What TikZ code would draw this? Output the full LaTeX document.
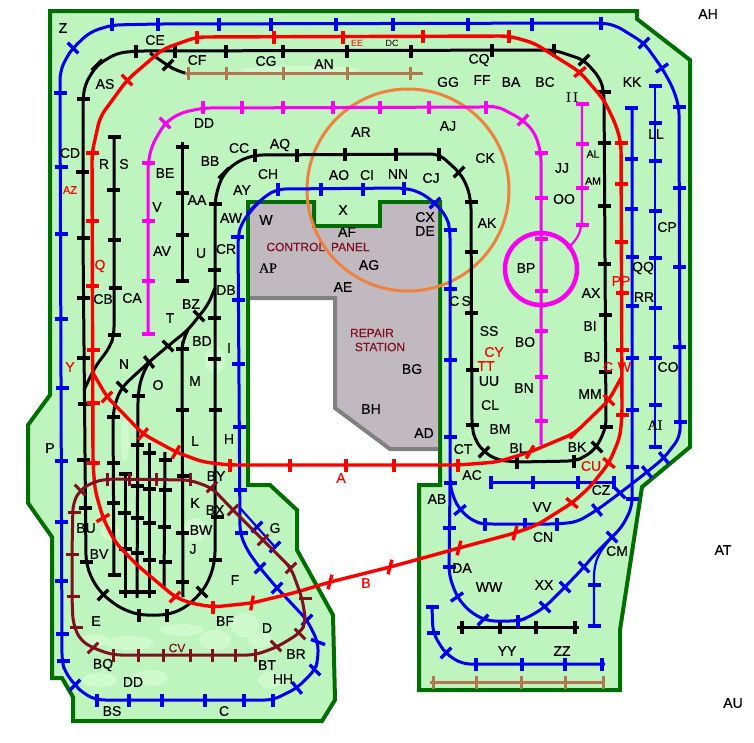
\documentclass[tikz,border=0pt]{standalone}
\usepackage{xcolor}
\usepackage{fontspec}
\setmainfont{Liberation Sans}
\newfontfamily\labelpart{Liberation Sans}[FakeBold=0.35]
\newfontfamily\serifpart{Liberation Serif}[FakeBold=0.35]
\definecolor{boardgreen}{RGB}{190,244,190}
\definecolor{paleblotch}{RGB}{206,250,206}
\definecolor{edgegreen}{RGB}{0,110,0}
\definecolor{panelgrey}{RGB}{192,186,192}
\definecolor{railblue}{RGB}{0,0,240}
\definecolor{railred}{RGB}{250,0,0}
\definecolor{railpink}{RGB}{250,0,240}
\definecolor{railmaroon}{RGB}{128,16,32}
\definecolor{railbrown}{RGB}{176,120,80}
\definecolor{railorange}{RGB}{240,128,64}
\tikzset{
  bluerail/.style={draw=railblue,line width=3pt,rounded corners=8pt},
  thinblue/.style={draw=railblue,line width=2.2pt,rounded corners=8pt},
  blacktrack/.style={draw=black,line width=3pt,rounded corners=8pt},
  redrail/.style={draw=railred,line width=3.4pt,rounded corners=8pt},
  pinkrail/.style={draw=railpink,line width=3pt,rounded corners=8pt},
  maroonrail/.style={draw=railmaroon,line width=3pt,rounded corners=8pt},
  brownrail/.style={draw=railbrown,line width=3pt},
  lab/.style={inner sep=0pt,font=\fontsize{14}{14}\selectfont\labelpart},
  labred/.style={lab,text=railred},
  labmaroon/.style={lab,text=railmaroon,font=\fontsize{12}{12}\selectfont\labelpart},
  labserif/.style={lab,font=\fontsize{14}{14}\selectfont\serifpart},
  labsmall/.style={lab,font=\fontsize{10.5}{10.5}\selectfont\labelpart},
}
\newcommand{\tickh}[2]{\foreach \x/\y in {#2} {\draw[#1] (\x-6.5,\y) -- (\x+6.5,\y);}}
\newcommand{\tickv}[2]{\foreach \x/\y in {#2} {\draw[#1] (\x,\y-6.5) -- (\x,\y+6.5);}}
\newcommand{\tickr}[2]{\foreach \x/\y/\a in {#2} {\draw[#1] ([shift={(\a:7.5)}]\x,\y) -- ([shift={(\a+180:7.5)}]\x,\y);}}
\begin{document}
\begin{tikzpicture}[x=1pt,y=-1pt]
\useasboundingbox (0,0) rectangle (754,742);
\fill[white] (0,0) rectangle (754,742);
% board
\draw[fill=boardgreen,draw=edgegreen,line width=4pt] (50,11) -- (637,11) -- (637,19) -- (690,60) -- (690,447) -- (642,487) -- (620,630) -- (620,690) -- (419,690) -- (419,485) -- (440,485) -- (440,202) -- (380,202) -- (380,226) -- (314,226) -- (314,202) -- (248,202) -- (248,485) -- (270,485) -- (297,510) -- (297,550) -- (333,615) -- (335,700) -- (322,721) -- (73,721) -- (73,697) -- (62,678) -- (52,678) -- (52,537) -- (28,503) -- (28,425) -- (50,395) -- cycle;
\foreach \x/\y/\rx/\ry in {130/643/24/7,95/640/14/6,182/630/22/6,215/640/16/10,245/625/14/12,150/678/18/8,100/680/18/7,270/680/12/8,260/640/12/8,195/530/12/12,110/532/10/8,215/360/10/14,125/440/4/22,300/70/60/4}
  \fill[paleblotch] (\x,\y) ellipse [x radius=\rx pt,y radius=\ry pt];
% panel
\draw[fill=panelgrey,draw=none] (250,204) -- (312,204) -- (312,228) -- (382,228) -- (382,204) -- (438,204) -- (438,449) -- (392,449) -- (335,408) -- (335,298) -- (250,298) -- cycle;
\draw[gray,line width=4pt] (250,298) -- (335,298) -- (335,408) -- (390,449) -- (438,449);
\draw[edgegreen,line width=4pt] (248,202) -- (314,202) -- (314,226) -- (380,226) -- (380,202) -- (440,202);
% orange circle
\draw[railorange,line width=3pt] (408,190) circle (101pt);
% black main line
\draw[blacktrack] (83,99) -- (85,84) -- (97,65) -- (117,53) -- (137,51) -- (554,50) -- (584,60) -- (600,78) -- (604,92) -- (606,427) -- (597,447) -- (585,457) -- (574,461) -- (517,462) -- (497,460) -- (484,452) -- (475,440) -- (472,427) -- (471,202) -- (467,185) -- (459,172) -- (439,154) -- (255,155) -- (238,161) -- (224,173) -- (217,190) -- (215,204) -- (215,560) -- (210,578) -- (202,592) -- (185,608) -- (167,615) -- (139,615) -- (120,608) -- (103,595) -- (92,580) -- (86,562) -- (83,238) -- cycle;
\draw[blacktrack] (150,53) -- (167,65) -- (177,71) -- (185,73);
\draw[blacktrack] (114,137) -- (114,335) -- (110,347) -- (95,367) -- (84,390);
\draw[blacktrack] (182,142) -- (182,281);
\draw[blacktrack] (215,288) -- (208,305) -- (199,316) -- (188,330) -- (168,346) -- (149,362) -- (122,387) -- (115,403) -- (113,417) -- (114,575);
\draw[blacktrack] (188,330) -- (183,340) -- (182,349) -- (183,597);
\draw[blacktrack] (149,362) -- (141,378) -- (138,396) -- (137,598);
\draw[blacktrack] (125,473) -- (125,598);
\draw[blacktrack] (149,443) -- (149,598);
\draw[blacktrack] (165,452) -- (164,588);
\draw[blacktrack] (457,627) -- (579,627);
\tickv{black,line width=3.4pt}{136/51,175/51,226/51,283/51,347/51,411/51,492/50,554/50,574/461,517/462,439/154,396/154,345/154,297/155,255/155,167/615,139/615,462/627,500/627,536/627,575/627}
\tickh{black,line width=3.4pt}{604/92,604/143,604/206,604/264,605/315,605/372,606/427,472/425,472/370,471/313,471/252,471/202,215/204,214/270,214/318,214/359,215/410,217/517,215/560,86/562,85/508,84/404,83/460,83/358,83/298,83/238,82/172,83/99,114/137,113/190,114/240,115/288,114/335,182/147,182/193,182/235,182/281,182/349,182/410,183/476,182/533,182/582,138/396,137/445,137/486,137/518,137/553,137/592,113/417,113/463,113/503,114/575,125/474,124/513,125/549,125/592,149/453,149/489,149/523,149/560,149/592,165/460,165/490,164/527,165/562}
\tickr{black,line width=3.4pt}{97/65/-45,584/60/-45,597/447/45,484/452/-45,459/172/-45,224/173/-45,202/592/45,103/595/-45,168/65/-45,199/316/45,168/346/45,149/362/50,122/387/45}
% brown sidings
\draw[brownrail] (185,73) -- (423,73);
\draw[brownrail] (430,682) -- (605,682);
\tickv{railbrown,line width=3pt}{188/73,226/73,283/73,347/73,410/73,433/682,476/682,521/682,565/682,603/682}
% blue lines
\draw[bluerail] (60,93) -- (60,72) -- (66,58) -- (73,48) -- (90,32) -- (112,25) -- (158,24) -- (601,23) -- (615,25) -- (644,43) -- (662,68) -- (673,88) -- (679,107) -- (680,422) -- (680,437) -- (664,458) -- (647,472) -- (620,493) -- (597,510) -- (577,522) -- (557,524) -- (485,524) -- (474,522) -- (460,510) -- (453,497) -- (450,483) -- (450,230) -- (447,217) -- (435,203) -- (420,192) -- (404,188) -- (278,189) -- (265,196) -- (253,208) -- (241,224) -- (238,237) -- (240,533) -- (247,550) -- (260,568) -- (277,588) -- (307,620) -- (318,642) -- (318,660) -- (315,670) -- (297,688) -- (273,700) -- (97,700) -- (84,694) -- (75,685) -- (65,672) -- (62,661) -- cycle;
\draw[bluerail] (450,483) -- (449,575) -- (457,597) -- (470,612) -- (487,621) -- (518,621) -- (527,618) -- (545,607) -- (565,587) -- (584,567) -- (594,555) -- (612,537) -- (622,527) -- (632,507) -- (632,108);
\draw[thinblue] (612,537) -- (599,553) -- (594,568) -- (594,626);
\draw[thinblue] (240,508) -- (257,527) -- (275,547);
\draw[thinblue] (655,86) -- (655,447);
\draw[bluerail] (491,482) -- (614,482);
\draw[bluerail] (432,607) -- (433,633) -- (445,653) -- (462,664) -- (605,664);
\tickv{railblue,line width=3.4pt}{112/24,158/24,219/24,271/24,336/24,393/24,468/24,532/24,601/23,557/524,525/524,485/524,404/188,278/189,321/189,363/189,273/700,244/700,205/700,162/700,129/700,97/700,491/482,533/482,578/482,614/482,518/621,476/664,522/664,565/664,602/664}
\tickh{railblue,line width=3.4pt}{679/107,679/188,679/267,679/347,680/422,450/483,450/437,450/360,450/289,450/230,237/237,238/300,238/364,239/427,240/490,241/533,63/661,62/634,61/581,61/522,61/461,62/388,61/319,61/234,61/167,60/93,449/528,449/567,631/108,631/159,631/209,632/257,632/306,632/358,632/410,632/467,632/499,594/585,594/626,655/86,655/123,655/161,655/211,655/258,655/308,655/358,655/405,655/447,432/607,433/633}
\tickr{railblue,line width=3.4pt}{73/48/45,644/43/-45,662/68/-35,664/458/50,647/472/50,620/493/45,597/510/50,460/510/-40,435/203/-45,253/208/-45,260/568/-45,277/588/-45,307/620/-45,318/642/20,315/670/45,297/688/50,75/685/-45,257/527/-45,275/547/-45,457/597/-35,483/620/-45,545/607/45,565/587/45,584/567/45,612/537/45,446/653/-45}
% magenta
\draw[pinkrail] (148,334) -- (148,163) -- (152,145) -- (165,123) -- (180,113) -- (203,108) -- (486,107) -- (497,106) -- (523,120) -- (535,133) -- (541,153) -- (541,445);
\draw[pinkrail,line width=2.2pt] (582,103) -- (582,225) -- (577,240) -- (567,248);
\draw[railpink,line width=4.5pt] (541,269) circle (36pt);
\tickh{railpink,line width=3.4pt}{541/153,541/198,541/239,541/291,541/331,541/377,541/421,148/163,148/221,148/281,148/334,582/104,582/144,582/188,582/225}
\tickv{railpink,line width=3.4pt}{203/107,242/107,283/107,333/107,380/107,429/107,486/107}
\tickr{railpink,line width=3.4pt}{523/120/-45,165/123/45}
% red
\draw[redrail] (197,37) -- (509,36) -- (534,43) -- (580,72) -- (604,100) -- (616,125) -- (621,143) -- (622,415) -- (620,437) -- (609,463) -- (590,487) -- (572,503) -- (537,525) -- (515,533) -- (459,548) -- (390,567) -- (330,582) -- (297,592) -- (252,603) -- (213,607) -- (190,603) -- (175,597) -- (137,565) -- (115,542) -- (103,518) -- (95,490) -- (93,463) -- (92,153) -- (100,117) -- (127,80) -- (163,49) -- cycle;
\draw[redrail] (93,373) -- (107,397) -- (115,405) -- (143,434) -- (176,452) -- (203,462) -- (230,465) -- (458,465) -- (497,462) -- (530,452) -- (575,433) -- (609,400) -- (621,378);
\tickv{railred,line width=3.4pt}{197/37,274/37,343/37,423/36,509/36,230/465,290/465,346/465,394/465,458/465,213/607}
\tickh{railred,line width=3.4pt}{621/143,621/184,621/242,622/293,622/350,622/415,93/463,93/403,93/350,92/286,92/221,92/153}
\tickr{railred,line width=3.4pt}{580/72/-40,609/463/40,572/503/40,515/533/-75,459/548/-75,390/567/-75,330/582/-75,252/603/-80,175/597/-45,103/518/-30,127/80/45,107/397/-45,143/434/-50,176/452/-60,530/452/-60,575/433/-45,609/400/45}
% maroon loop
\draw[maroonrail] (113,655) -- (255,655) -- (277,647) -- (300,633) -- (306,622) -- (302,598) -- (291,568) -- (285,562) -- (263,540) -- (233,510) -- (212,488) -- (190,480) -- (107,479) -- (93,482) -- (80,490) -- (73,503) -- (72,553) -- (72,597) -- (73,623) -- (80,640) -- (93,648) -- cycle;
\tickv{railmaroon,line width=3pt}{107/479,129/479,156/479,190/479,255/655,235/655,212/655,190/655,163/655,138/655,113/655}
\tickh{railmaroon,line width=3pt}{305/598,76/627,73/596,72/554,74/512}
\tickr{railmaroon,line width=3pt}{80/490/45,212/487/-45,233/510/-45,263/540/-45,291/568/-45,300/634/45,276/646/45,93/648/-45}
% labels
\foreach \n/\x/\y in {Z/63/28,CE/155/40,CF/197/60,CG/266/61,AN/324/64,CQ/479/60,GG/448/82,FF/482/80,BA/511/82,BC/545/82,KK/632/82,AH/708/14,AS/105/84,AR/361/132,AJ/448/126,CC/239/148,AQ/280/145,CK/485/158,CD/70/153,R/104/164,S/124/164,BE/165/173,BB/210/161,CH/268/174,AO/339/175,CI/367/175,NN/398/174,CJ/431/178,JJ/562/168,OO/564/199,LL/656/134,CP/667/227,AY/242/190,V/157/207,AA/197/200,AW/231/218,W/266/220,X/343/210,AK/487/223,CX/425/217,DE/425/231,AF/347/232,AV/162/251,U/201/253,CR/226/249,AG/369/265,BP/526/268,QQ/643/268,DB/226/290,CB/103/299,CA/132/298,AE/343/287,AX/591/293,RR/644/297,BZ/191/304,T/170/318,BD/202/341,I/229/348,SS/489/331,BI/590/326,BO/525/342,N/124/364,BJ/592/357,CO/668/367,BG/412/369,UU/489/381,O/158/385,M/195/381,BN/524/388,MM/590/394,BH/371/409,CL/490/405,AD/424/433,BM/500/429,L/195/441,H/229/439,P/50/448,BL/518/448,BK/577/447,CT/463/449,BY/216/476,AC/472/475,K/195/503,BX/215/510,AB/437/499,VV/542/507,CZ/601/490,BW/201/530,G/275/528,BU/86/528,DA/462/568,CN/543/537,J/193/549,BV/99/554,CM/617/551,AT/723/550,F/235/580,WW/489/587,XX/544/585,E/96/621,BF/225/621,D/267/628,YY/507/651,ZZ/562/651,BR/296/654,BQ/103/665,BT/267/665,HH/283/679,BS/112/711,C/224/711,AU/733/703,DD/204/123}
  \node[lab] (\n) at (\x,\y) {\n};
\node[lab] (DDlower) at (133,682) {DD};
\node[lab] (CS) at (460,301) {C\,S};
\node[labserif] (II) at (572,97) {I\,I};
\node[labserif] (AP) at (268,268) {AP};
\node[labserif] (AI) at (655,425) {AI};
\node[labsmall] (AL) at (593,154) {AL};
\node[labsmall] (AM) at (593,181) {AM};
\foreach \n/\x/\y in {Q/100/266,Y/70/367,PP/621/281,CY/494/352,TT/486/366,A/341/478,CU/591/466,B/366/583}
  \node[labred] (\n) at (\x,\y) {\n};
\node[labred] (CW) at (617,367) {C\,\,W};
\node[labred,font=\fontsize{11}{11}\selectfont\labelpart] (AZ) at (70,190) {AZ};
\node[labred,font=\fontsize{9}{9}\selectfont] (EE) at (357,43) {EE};
\node[labsmall,font=\fontsize{9}{9}\selectfont] (DC) at (392,43) {DC};
\node[labmaroon] (CTRL) at (318,247) {CONTROL\,\,\,PANEL};
\node[labmaroon] (REPAIR) at (372,333) {REPAIR};
\node[labmaroon] (STATION) at (380,347) {STATION};
\node[labmaroon] (CV) at (177,648) {CV};
\end{tikzpicture}
\end{document}
